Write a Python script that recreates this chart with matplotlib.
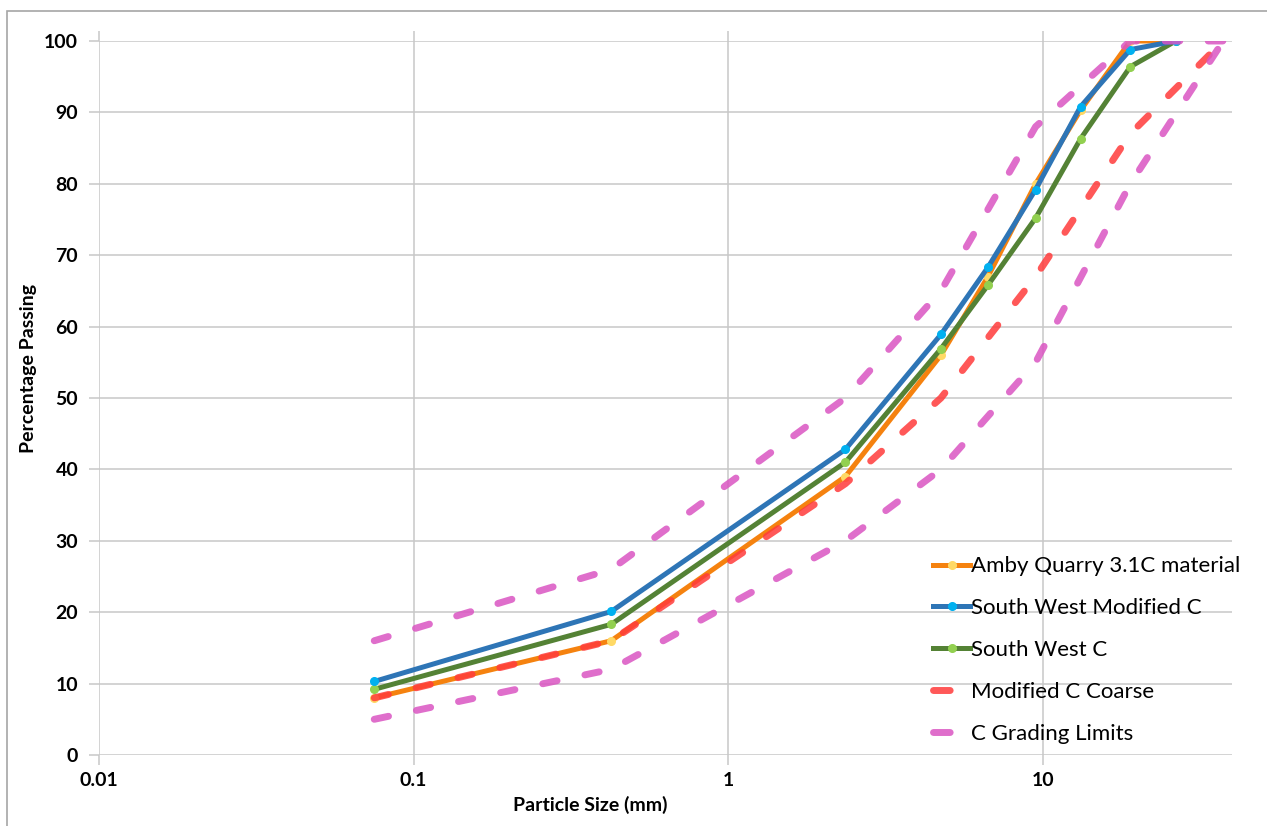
import matplotlib
matplotlib.use("Agg")
import matplotlib.pyplot as plt
from matplotlib.patches import Rectangle

plt.rcParams['font.family'] = ['Lato', 'DejaVu Sans']
plt.rcParams['lines.scale_dashes'] = False

# sieve sizes (mm)
sieves = [0.075, 0.425, 2.36, 4.75, 6.7, 9.5, 13.2, 19, 26.5]
amby = [8, 16, 39, 56, 67, 80, 90.3, 100, 100]
sw_modified = [10.3, 20.1, 42.8, 58.9, 68.3, 79.2, 90.8, 98.8, 100]
sw_c = [9.2, 18.3, 41, 56.9, 65.8, 75.2, 86.3, 96.4, 100]

limit_sieves = [0.075, 0.425, 2.36, 4.75, 9.5, 19, 37.5]
coarse = [8, 16, 38, 50, 67, 87, 100]
upper_limit = [16, 26, 50, 65, 88, 100, 100]
lower_limit = [5, 12, 30, 40, 55, 80, 100]

fig = plt.figure(figsize=(12.67, 8.26), dpi=100)
fig.patches.append(Rectangle((7 / 1267, -0.1), 1.2, 1.1 - 11 / 826,
                             transform=fig.transFigure, fill=False,
                             edgecolor='#a6a6a6', linewidth=1.2))
ax = fig.add_axes([99 / 1267, 1 - 755 / 826, (1232 - 99) / 1267, (755 - 41) / 826])

dash = (10.5, 20.5)
ax.plot(sieves, amby, color='#F5820F', lw=3.6, marker='o', ms=5.5,
        mfc='#FFD966', mec='#FFD966', label='Amby Quarry 3.1C material', zorder=3)
ax.plot(sieves, sw_modified, color='#2E75B6', lw=3.6, marker='o', ms=5.5,
        mfc='#00B0F0', mec='#00B0F0', label='South West Modified C', zorder=4)
ax.plot(sieves, sw_c, color='#548235', lw=3.6, marker='o', ms=5.5,
        mfc='#92D050', mec='#92D050', label='South West C', zorder=3)
ax.plot(limit_sieves, coarse, color='#FF3B3B', lw=5, alpha=0.85,
        dashes=dash, dash_capstyle='round', label='Modified C Coarse', zorder=5)
ax.plot(limit_sieves, upper_limit, color='#DA55C2', lw=5, alpha=0.85,
        dashes=dash, dash_capstyle='round', label='C Grading Limits', zorder=5)
ax.plot(limit_sieves, lower_limit, color='#DA55C2', lw=5, alpha=0.85,
        dashes=dash, dash_capstyle='round', zorder=5)

ax.set_xscale('log')
ax.set_xlim(0.01, 40)
ax.set_ylim(0, 100)
ax.set_xticks([0.01, 0.1, 1, 10])
ax.set_xticklabels(['0.01', '0.1', '1', '10'])
ax.xaxis.set_minor_locator(plt.NullLocator())
ax.set_yticks(range(0, 101, 10))
ax.grid(True, color='#c8c8c8', lw=1.1)
ax.set_axisbelow(True)
for s in ax.spines.values():
    s.set_visible(False)
ax.tick_params(axis='both', length=7, color='#c8c8c8', width=1.1,
               labelsize=14, top=True)
ax.tick_params(axis='y', pad=8)
ax.tick_params(axis='x', pad=5)
for lab in ax.get_xticklabels() + ax.get_yticklabels():
    lab.set_fontweight('bold')

ax.set_xlabel('Particle Size (mm)', fontsize=14, fontweight='bold')
ax.set_ylabel('Percentage Passing', fontsize=14, fontweight='bold')
ax.xaxis.set_label_coords((590 - 99) / (1232 - 99), -41 / 714)
ax.yaxis.set_label_coords(-62 / 1133, (755 - 368) / 714)

leg = ax.legend(loc='lower left', bbox_to_anchor=((933 - 99) / 1133, 0.016),
                frameon=False, fontsize=16, handlelength=1.67,
                handletextpad=0.05, labelspacing=0.98, borderaxespad=0,
                borderpad=0)
for ln in leg.get_lines()[3:]:
    ln.set_dashes((12, 60))

fig.savefig('out.png', dpi=100)
